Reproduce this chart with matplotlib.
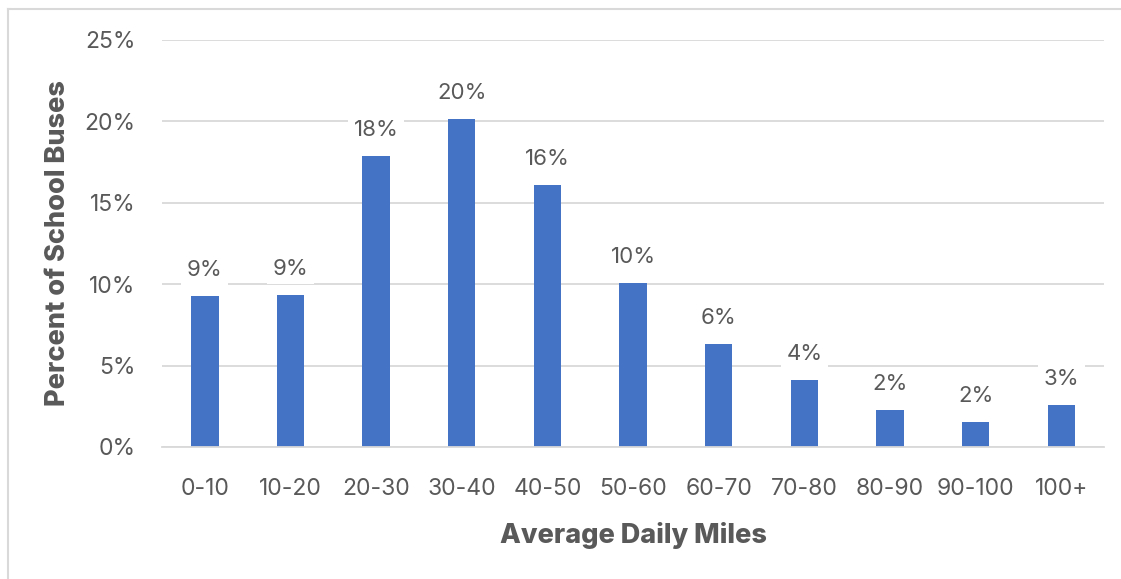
import matplotlib
matplotlib.use("Agg")
import matplotlib.pyplot as plt
from matplotlib.lines import Line2D
from matplotlib.ticker import FuncFormatter

# Distribution of school buses by average daily mileage
categories = ["0-10", "10-20", "20-30", "30-40", "40-50", "50-60",
              "60-70", "70-80", "80-90", "90-100", "100+"]
shares = [0.093, 0.0935, 0.1785, 0.2012, 0.161, 0.1008,
          0.0635, 0.0413, 0.0228, 0.0155, 0.0259]
y_ticks = [0.0, 0.05, 0.10, 0.15, 0.20, 0.25]

FONT = ["Inter", "DejaVu Sans"]
TEXT_COLOR = "#595959"
BAR_COLOR = "#4472C4"
GRID_COLOR = "#D9D9D9"

plt.rcParams["font.family"] = FONT

fig = plt.figure(figsize=(11.21, 5.79), dpi=100)
ax = fig.add_axes([0.1445, 0.228, 0.8405, 0.703])

x = range(len(categories))
ax.bar(x, shares, width=0.32, color=BAR_COLOR, zorder=2)

for xi, v in zip(x, shares):
    ax.annotate(f"{v:.0%}", (xi, v), xytext=(0, 11.5), textcoords="offset points",
                ha="center", va="bottom", fontsize=16, color=TEXT_COLOR,
                bbox=dict(boxstyle="square,pad=0.25", fc="white", ec="none"),
                zorder=3)

ax.set_xlim(-0.5, len(categories) - 0.5)
ax.set_ylim(0, 0.25)
ax.set_yticks(y_ticks)
ax.yaxis.set_major_formatter(FuncFormatter(lambda v, _: f"{v:.0%}"))
ax.set_xticks(list(x))
ax.set_xticklabels(categories)

ax.grid(axis="y", color=GRID_COLOR, linewidth=1.3, zorder=0)
ax.set_axisbelow(True)
for side in ("top", "right", "left"):
    ax.spines[side].set_visible(False)
ax.spines["bottom"].set_color(GRID_COLOR)
ax.spines["bottom"].set_linewidth(1.3)

ax.tick_params(axis="both", length=0, labelsize=16.5, colors=TEXT_COLOR)
ax.tick_params(axis="y", pad=19)
ax.tick_params(axis="x", pad=22)

ax.set_xlabel("Average Daily Miles", fontsize=19.5, fontweight=800,
              color=TEXT_COLOR, labelpad=16)
ax.set_ylabel("Percent of School Buses", fontsize=19.5, fontweight=800,
              color=TEXT_COLOR, labelpad=10)

# chart frame (top and left edges)
fig.add_artist(Line2D([0.0075, 1.0], [0.985, 0.985], transform=fig.transFigure,
                      color="#D9D9D9", linewidth=1.5))
fig.add_artist(Line2D([0.0075, 0.0075], [0.0, 0.985], transform=fig.transFigure,
                      color="#D9D9D9", linewidth=1.5))

fig.savefig("out.png", dpi=100, facecolor="white")
